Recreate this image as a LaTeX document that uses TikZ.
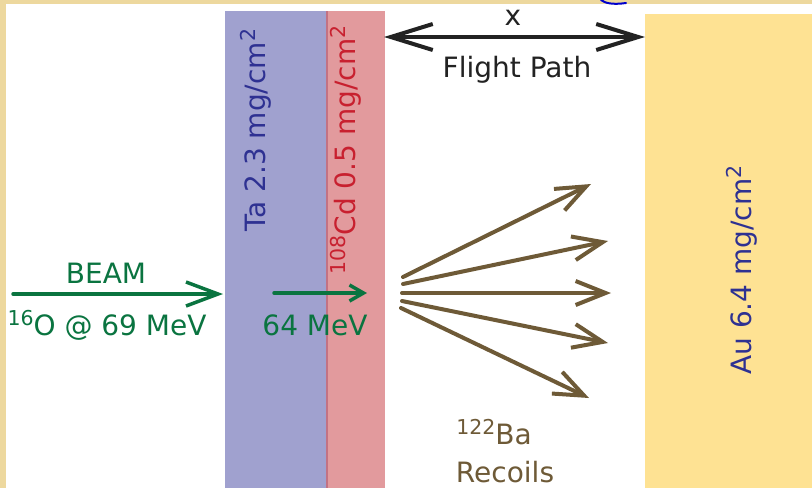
\documentclass[tikz,border=0pt]{standalone}
\usepackage{fontspec}
\setmainfont{DejaVu Sans}
\usetikzlibrary{arrows.meta}

\definecolor{frameTan}{HTML}{EDD89E}
\definecolor{taFill}{HTML}{A0A1CF}
\definecolor{cdFill}{HTML}{E29A9D}
\definecolor{cdEdge}{HTML}{C27283}
\definecolor{auFill}{HTML}{FEE293}
\definecolor{inkBlue}{HTML}{2E3192}
\definecolor{inkRed}{HTML}{C8202F}
\definecolor{inkGreen}{HTML}{0A7440}
\definecolor{inkBrown}{HTML}{6E5A37}
\definecolor{inkBlack}{HTML}{222222}

% raised index set at about three quarters of the body size
\newcommand\upidx[1]{\raisebox{0.36em}{\fontsize{20.5}{20.5}\selectfont #1}}
\newcommand\isotope[2]{\upidx{#1}#2}

\tikzset{
  lbl/.style={font=\fontsize{28}{32}\selectfont, inner sep=0pt},
  vlbl/.style={lbl, rotate=90},
  beamarrow/.style={draw=inkGreen, line width=3.5pt, line cap=round,
    -{Straight Barb[length=32pt, width=24pt, line width=3.5pt]}},
  smallbeam/.style={draw=inkGreen, line width=3.5pt, line cap=round,
    -{Straight Barb[length=14pt, width=16pt, line width=3.5pt]}},
  recoil/.style={draw=inkBrown, line width=4pt, line cap=round,
    -{Straight Barb[length=30pt, width=24pt, line width=4pt]}},
  flight/.style={draw=inkBlack, line width=4pt, line cap=round,
    {Straight Barb[length=42pt, width=26pt, line width=4pt]}-{Straight Barb[length=42pt, width=26pt, line width=4pt]}},
}

\begin{document}
\begin{tikzpicture}[x=1pt, y=-1pt]
  \useasboundingbox (0,0) rectangle (812,488);

  % frame and page
  \fill[frameTan] (0,0) rectangle (812,488);
  \fill[white] (6,4) rectangle (812,488);
  \draw[blue!80!black, line width=2pt, line cap=round]
    (601,0) .. controls (605,3) and (612,5) .. (626,3);

  % target layers
  \fill[taFill] (225,11) rectangle (327,488);
  \fill[cdFill] (327,11) rectangle (385,488);
  \draw[cdEdge, line width=1.5pt] (327,11) -- (327,488);
  \fill[auFill] (645,14) rectangle (812,488);

  % layer labels
  \node[vlbl, text=inkBlue] (ta) at (256,130) {Ta 2.3 mg/cm\upidx{2}};
  \node[vlbl, text=inkRed] (cd) at (346,150) {\isotope{108}{Cd} 0.5 mg/cm\upidx{2}};
  \node[vlbl, text=inkBlue] (au) at (742,270) {Au 6.4 mg/cm\upidx{2}};

  % flight path
  \coordinate (fpL) at (384,37);
  \coordinate (fpR) at (645,37);
  \draw[flight] (fpL) -- (fpR);
  \node[lbl, text=inkBlack] (xlab) at (513,18) {x};
  \node[lbl, text=inkBlack] (fp) at (517,70) {Flight Path};

  % incoming beam
  \coordinate (b0) at (13,294);
  \coordinate (b1) at (223,294);
  \draw[beamarrow] (b0) -- (b1);
  \node[lbl, text=inkGreen] (beam) at (106,273) {BEAM};
  \node[lbl, text=inkGreen] (oxy) at (107,325) {\isotope{16}{O} @ 69 MeV};

  \coordinate (c0) at (274,293);
  \coordinate (c1) at (367,293);
  \draw[smallbeam] (c0) -- (c1);
  \node[lbl, text=inkGreen] (e64) at (315,325) {64 MeV};

  % recoils
  \coordinate (r1s) at (403,277); \coordinate (r1e) at (591,184);
  \coordinate (r2s) at (403,284); \coordinate (r2e) at (608,241);
  \coordinate (r3s) at (402,293); \coordinate (r3e) at (611,293);
  \coordinate (r4s) at (402,301); \coordinate (r4e) at (608,343);
  \coordinate (r5s) at (401,308); \coordinate (r5e) at (589,398);
  \foreach \k in {1,...,5} \draw[recoil] (r\k s) -- (r\k e);

  \node[lbl, text=inkBrown] (ba) at (494,432) {\isotope{122}{Ba}};
  \node[lbl, text=inkBrown] (rec) at (505,472) {Recoils};
\end{tikzpicture}
\end{document}
